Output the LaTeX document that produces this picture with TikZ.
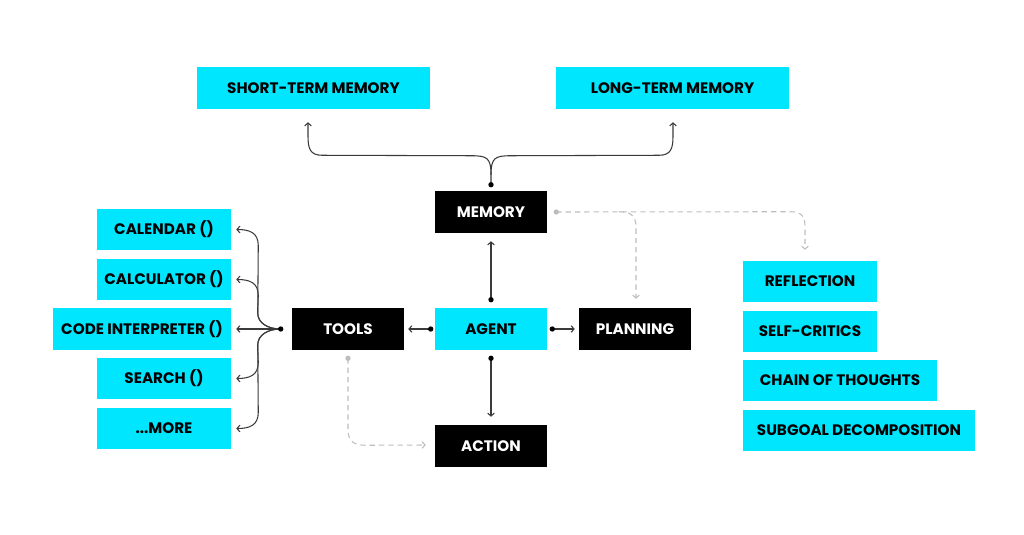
\documentclass[tikz,border=0pt]{standalone}
\usepackage{fontspec}
\setmainfont{Poppins}
\usetikzlibrary{arrows.meta,calc}
\definecolor{cyanc}{HTML}{00E6FF}
\definecolor{linec}{HTML}{3A3A3A}
\definecolor{dashc}{HTML}{BDBDBD}
\tikzset{
  box/.style={inner sep=0pt, minimum height=31.5pt, font=\fontsize{11.4}{13}\selectfont\bfseries},
  cy/.style={box, fill=cyanc, text=black},
  bk/.style={box, fill=black, text=white},
  tip/.style={-{Straight Barb[length=2.2pt,width=5pt]}},
  conn/.style={draw=linec, line width=0.8pt},
  dconn/.style={draw=dashc, line width=0.8pt, dash pattern=on 4pt off 3pt},
  dotc/.style={fill=black},
}
\begin{document}
\begin{tikzpicture}[x=0.75pt,y=-0.75pt]
\useasboundingbox (0,0) rectangle (1024,535);
% nodes
\node[cy, minimum width=174.75pt] (stm) at (313.5,88) {SHORT-TERM MEMORY};
\node[cy, minimum width=174.75pt] (ltm) at (672.5,88) {LONG-TERM MEMORY};
\node[bk, minimum width=84pt] (memory) at (491,212) {MEMORY};
\node[cy, minimum width=84pt] (agent) at (491,329) {AGENT};
\node[bk, minimum width=84pt] (tools) at (348,329) {TOOLS};
\node[bk, minimum width=84pt] (planning) at (635,329) {PLANNING};
\node[bk, minimum width=84pt] (action) at (491,446) {ACTION};
\node[cy, minimum width=100.5pt, minimum height=30.75pt] (cal) at (164,229.5) {CALENDAR ()};
\node[cy, minimum width=100.5pt, minimum height=30.75pt] (calc) at (164,279.5) {CALCULATOR ()};
\node[cy, minimum width=133.5pt] (code) at (142,329) {CODE INTERPRETER ()};
\node[cy, minimum width=100.5pt, minimum height=30.75pt] (search) at (164,378.5) {SEARCH ()};
\node[cy, minimum width=100.5pt, minimum height=30.75pt] (more) at (164,428.5) {...MORE};
\node[cy, minimum width=100.5pt, minimum height=30.75pt] (refl) at (810,281.5) {REFLECTION};
\node[cy, minimum width=100.5pt, minimum height=30.75pt] (self) at (810,331.5) {SELF-CRITICS};
\node[cy, minimum width=145.5pt, minimum height=30.75pt] (chain) at (840,380.5) {CHAIN OF THOUGHTS};
\node[cy, minimum width=174pt, minimum height=30.75pt] (sub) at (859,430.5) {SUBGOAL DECOMPOSITION};
% coordinates
\coordinate (mtop) at ($(memory.north)+(0,-6)$);
\coordinate (mbr) at ($(memory.north)+(0,-16)$);
\coordinate (stmend) at ($(stm.south)+(-5.5,13)$);
\coordinate (ltmend) at ($(ltm.south)+(0.5,13)$);
\coordinate (abot) at ($(agent.north)+(0,-8)$);
\coordinate (mbot) at ($(memory.south)+(0,8)$);
\coordinate (aw) at ($(agent.west)+(-4,0)$);
\coordinate (tw) at ($(tools.east)+(4,0)$);
\coordinate (ae) at ($(agent.east)+(5,0)$);
\coordinate (pw) at ($(planning.west)+(-4,0)$);
\coordinate (as) at ($(agent.south)+(0,8)$);
\coordinate (actn) at ($(action.north)+(0,-8)$);
\coordinate (tfan) at ($(tools.west)+(-11,0)$);
\coordinate (mr) at ($(memory.east)+(9,0)$);
\coordinate (ts) at ($(tools.south)+(0,8)$);
% memory split
\draw[conn, tip] (mtop) -- (mbr) .. controls ($(mbr)+(0,-17)$) and ($(mbr)+(-4,-19)$) .. ($(mbr)+(-20,-19)$)
  -- ($(stmend)+(14,33)$) .. controls ($(stmend)+(2,33)$) and ($(stmend)+(0,26)$) .. ($(stmend)+(0,14)$) -- (stmend);
\draw[conn, tip] (mbr) .. controls ($(mbr)+(0,-17)$) and ($(mbr)+(4,-19)$) .. ($(mbr)+(20,-19)$)
  -- ($(ltmend)+(-14,33)$) .. controls ($(ltmend)+(-2,33)$) and ($(ltmend)+(0,26)$) .. ($(ltmend)+(0,14)$) -- (ltmend);
\fill[dotc] (mtop) circle (2pt);
% agent links
\draw[conn, tip] (abot) -- (mbot);
\fill[dotc] (abot) circle (2pt);
\draw[conn, tip] (aw) -- (tw);
\fill[dotc] (aw) circle (2pt);
\draw[conn, tip] (ae) -- (pw);
\fill[dotc] (ae) circle (2pt);
\draw[conn, tip] (as) -- (actn);
\fill[dotc] (as) circle (2pt);
% tools fan
\foreach \t/\s in {cal/-1, calc/-1, search/1, more/1}{
  \draw[conn, tip] (tfan) .. controls ($(tfan)+(-13,0)$) and ($(tfan)+(-23,\s*6)$) .. ($(tfan)+(-23,\s*16)$)
    -- ($(\t.east)+(27,-\s*16)$) .. controls ($(\t.east)+(27,-\s*3)$) and ($(\t.east)+(18,0)$) .. ($(\t.east)+(5,0)$);
}
\draw[conn, tip] (tfan) -- ($(code.east)+(5,0)$);
\fill[dotc] (tfan) circle (2pt);
% dashed memory links
\draw[dconn, tip] (mr) -- ($(refl.north)+(-20,-49)$) .. controls ($(refl.north)+(-8,-49)$) and ($(refl.north)+(-5,-44)$) .. ($(refl.north)+(-5,-34)$) -- ($(refl.north)+(-5,-11)$);
\draw[dconn, tip] ($(planning.north)+(-16,-96)$) .. controls ($(planning.north)+(-4,-96)$) and ($(planning.north)+(1,-92)$) .. ($(planning.north)+(1,-80)$) -- ($(planning.north)+(1,-9)$);
\fill[dashc] (mr) circle (2pt);
% dashed tools-action
\draw[dconn, tip] (ts) -- ($(ts)+(0,70)$) .. controls ($(ts)+(0,82)$) and ($(ts)+(4,87)$) .. ($(ts)+(18,87)$) -- ($(action.west)+(-9,-1)$);
\fill[dashc] (ts) circle (2pt);
\end{tikzpicture}
\end{document}
